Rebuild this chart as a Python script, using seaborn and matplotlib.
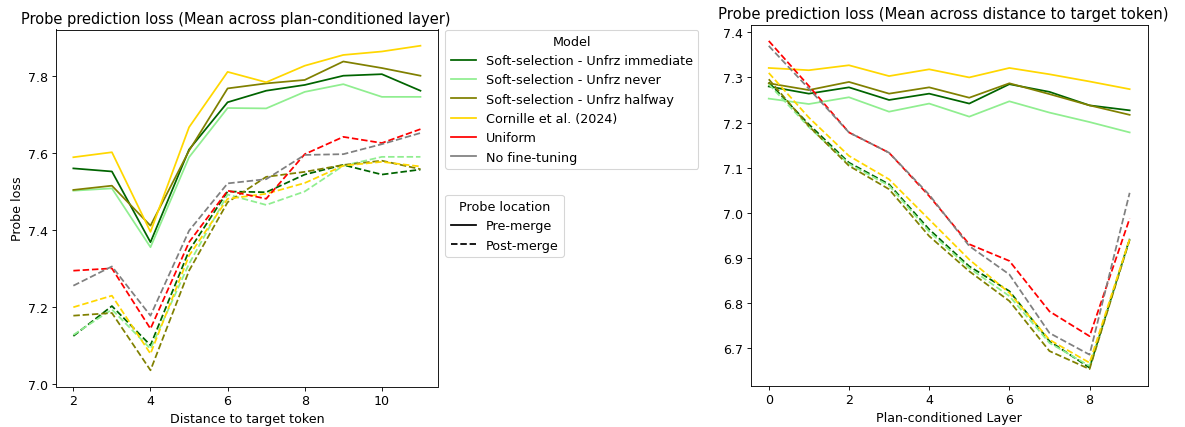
import numpy as np
import pandas as pd
import seaborn as sns
import matplotlib
matplotlib.use("Agg")
import matplotlib.pyplot as plt
from matplotlib.lines import Line2D

models = ["Soft-selection - Unfrz immediate", "Soft-selection - Unfrz never",
          "Soft-selection - Unfrz halfway", "Cornille et al. (2024)",
          "Uniform", "No fine-tuning"]
colors = ["darkgreen", "lightgreen", "olive", "gold", "red", "gray"]

distance = [2, 3, 4, 5, 6, 7, 8, 9, 10, 11]
layer = [0, 1, 2, 3, 4, 5, 6, 7, 8, 9]

# Left panel: mean across plan-conditioned layer, by distance
left_pre = {
    "Soft-selection - Unfrz immediate": [7.560, 7.552, 7.368, 7.609, 7.732, 7.762, 7.777, 7.801, 7.805, 7.762],
    "Soft-selection - Unfrz never":     [7.502, 7.508, 7.355, 7.589, 7.717, 7.716, 7.759, 7.779, 7.746, 7.746],
    "Soft-selection - Unfrz halfway":   [7.504, 7.515, 7.411, 7.606, 7.768, 7.781, 7.790, 7.838, 7.821, 7.801],
    "Cornille et al. (2024)":           [7.589, 7.602, 7.395, 7.667, 7.811, 7.784, 7.827, 7.855, 7.864, 7.879],
}
left_post = {
    "Soft-selection - Unfrz immediate": [7.124, 7.202, 7.100, 7.346, 7.500, 7.498, 7.544, 7.569, 7.544, 7.557],
    "Soft-selection - Unfrz never":     [7.127, 7.193, 7.091, 7.312, 7.492, 7.465, 7.500, 7.567, 7.590, 7.590],
    "Soft-selection - Unfrz halfway":   [7.177, 7.184, 7.035, 7.294, 7.472, 7.538, 7.551, 7.569, 7.580, 7.558],
    "Cornille et al. (2024)":           [7.199, 7.229, 7.078, 7.333, 7.481, 7.494, 7.522, 7.567, 7.577, 7.565],
    "Uniform":                          [7.294, 7.300, 7.143, 7.368, 7.502, 7.481, 7.597, 7.642, 7.626, 7.662],
    "No fine-tuning":                   [7.255, 7.305, 7.177, 7.398, 7.521, 7.532, 7.595, 7.597, 7.623, 7.652],
}

# Right panel: mean across distance, by plan-conditioned layer
right_pre = {
    "Soft-selection - Unfrz immediate": [7.280, 7.264, 7.278, 7.250, 7.264, 7.242, 7.285, 7.268, 7.238, 7.227],
    "Soft-selection - Unfrz never":     [7.253, 7.241, 7.256, 7.224, 7.242, 7.213, 7.247, 7.222, 7.201, 7.178],
    "Soft-selection - Unfrz halfway":   [7.287, 7.272, 7.290, 7.264, 7.278, 7.255, 7.287, 7.263, 7.238, 7.217],
    "Cornille et al. (2024)":           [7.321, 7.316, 7.327, 7.303, 7.318, 7.300, 7.321, 7.307, 7.291, 7.274],
}
right_post = {
    "Soft-selection - Unfrz immediate": [7.289, 7.196, 7.111, 7.063, 6.963, 6.881, 6.826, 6.715, 6.656, 6.942],
    "Soft-selection - Unfrz never":     [7.285, 7.190, 7.108, 7.060, 6.958, 6.877, 6.815, 6.711, 6.660, 6.940],
    "Soft-selection - Unfrz halfway":   [7.296, 7.192, 7.104, 7.052, 6.948, 6.870, 6.804, 6.693, 6.653, 6.940],
    "Cornille et al. (2024)":           [7.310, 7.211, 7.126, 7.074, 6.985, 6.896, 6.822, 6.718, 6.667, 6.942],
    "Uniform":                          [7.381, 7.281, 7.178, 7.133, 7.037, 6.930, 6.893, 6.781, 6.726, 6.987],
    "No fine-tuning":                   [7.370, 7.275, 7.178, 7.133, 7.040, 6.926, 6.863, 6.733, 6.685, 7.044],
}


def to_long(xs, pre, post):
    rows = []
    for loc, d in (("Pre-merge", pre), ("Post-merge", post)):
        for m, vals in d.items():
            for x, v in zip(xs, vals):
                rows.append({"x": x, "loss": v, "Model": m, "Probe location": loc})
    return pd.DataFrame(rows)


plt.rcParams["font.size"] = 11.5
plt.rcParams["font.family"] = ["DejaVu Sans"]

palette = dict(zip(models, colors))
dashes = {"Pre-merge": "", "Post-merge": (3.7, 1.6)}

W, H, DPI = 1185, 428, 79
fig = plt.figure(figsize=(W / DPI, H / DPI), dpi=DPI)
ax1 = fig.add_axes([56 / W, 1 - 387.5 / H, 381.8 / W, 357 / H])
ax2 = fig.add_axes([750.7 / W, 1 - 386.5 / H, 397 / W, 361 / H])

df_left = to_long(distance, left_pre, left_post)
df_right = to_long(layer, right_pre, right_post)

for ax, df in ((ax1, df_left), (ax2, df_right)):
    sns.lineplot(data=df, x="x", y="loss", hue="Model", style="Probe location",
                 hue_order=models, style_order=["Pre-merge", "Post-merge"],
                 palette=palette, dashes=dashes, linewidth=1.6,
                 legend=False, ax=ax, errorbar=None)

ax1.set_title("Probe prediction loss (Mean across plan-conditioned layer)",
              fontsize=13.3, x=0.47)
ax1.set_xlabel("Distance to target token")
ax1.set_ylabel("Probe loss")
ax1.set_xticks([2, 4, 6, 8, 10])

ax2.set_title("Probe prediction loss (Mean across distance to target token)",
              fontsize=13.5, x=0.485)
ax2.set_xlabel("Plan-conditioned Layer")
ax2.set_ylabel("")
ax2.set_xticks([0, 2, 4, 6, 8])

model_handles = [Line2D([0], [0], color=c, lw=1.6) for c in colors]
leg1 = ax1.legend(model_handles, models, title="Model", loc="upper left",
                  bbox_to_anchor=(1.02, 1.0), borderaxespad=0,
                  fontsize=11.6, title_fontsize=11.6)
ax1.add_artist(leg1)
loc_handles = [Line2D([0], [0], color="black", lw=1.6, ls="-"),
               Line2D([0], [0], color="black", lw=1.6, ls="--")]
ax1.legend(loc_handles, ["Pre-merge", "Post-merge"], title="Probe location",
           loc="upper left", bbox_to_anchor=(1.02, 0.537), borderaxespad=0,
           fontsize=11.6, title_fontsize=11.6)

fig.savefig("out.png", dpi=DPI)
